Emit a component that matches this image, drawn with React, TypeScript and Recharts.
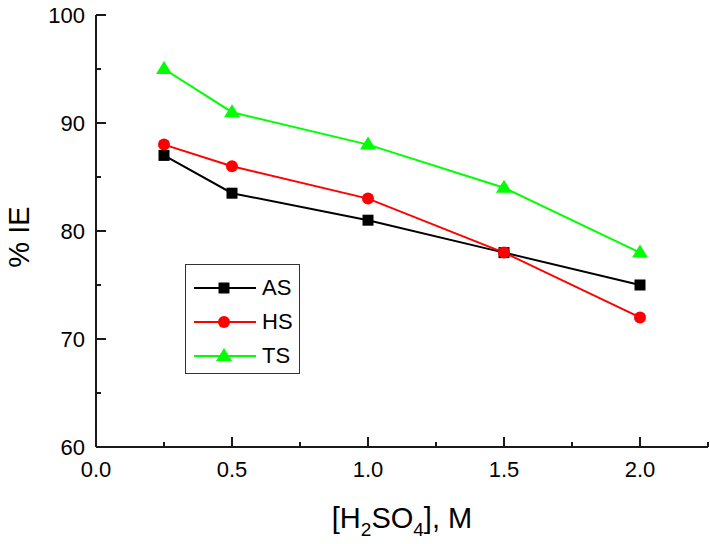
import { LineChart, Line, XAxis, YAxis, Legend } from 'recharts';

const concentrations = [0.25, 0.5, 1.0, 1.5, 2.0];
const asValues = [87, 83.5, 81, 78, 75];
const hsValues = [88, 86, 83, 78, 72];
const tsValues = [95, 91, 88, 84, 78];

const xTicks = [0, 0.25, 0.5, 0.75, 1.0, 1.25, 1.5, 1.75, 2.0, 2.25];
const yTicks = [60, 65, 70, 75, 80, 85, 90, 95, 100];

const FONT = '"Liberation Sans", Arial, sans-serif';

type Shape = 'square' | 'circle' | 'triangle';

interface SeriesProps {
  key: string;
  name: string;
  color: string;
  shape: Shape;
}

const series: SeriesProps[] = [
  { key: 'as', name: 'AS', color: '#000000', shape: 'square' },
  { key: 'hs', name: 'HS', color: '#ff0000', shape: 'circle' },
  { key: 'ts', name: 'TS', color: '#00ff00', shape: 'triangle' },
];

const chartData = concentrations.map((x, i) => ({
  x,
  as: asValues[i],
  hs: hsValues[i],
  ts: tsValues[i],
}));

function Marker({ cx, cy, shape, color }: { cx: number; cy: number; shape: Shape; color: string }) {
  if (shape === 'square') {
    return <rect x={cx - 5.5} y={cy - 5.5} width={11} height={11} fill={color} />;
  }
  if (shape === 'circle') {
    return <circle cx={cx} cy={cy} r={6} fill={color} />;
  }
  return <polygon points={`${cx},${cy - 8} ${cx + 8},${cy + 5} ${cx - 8},${cy + 5}`} fill={color} />;
}

function XTick({ x, y, payload }: any) {
  const v = payload.value;
  const major = Math.abs(v * 2 - Math.round(v * 2)) < 1e-6;
  return (
    <g>
      <line x1={x} x2={x} y1={y} y2={y - (major ? 10 : 5)} stroke="#1a1a1a" strokeWidth={2} />
      {major && (
        <text x={x} y={y + 30} textAnchor="middle" fontSize={22} fontFamily={FONT} fill="#000">
          {v.toFixed(1)}
        </text>
      )}
    </g>
  );
}

function YTick({ x, y, payload }: any) {
  const v = payload.value;
  const major = v % 10 === 0;
  return (
    <g>
      <line x1={x} x2={x + (major ? 10 : 5)} y1={y} y2={y} stroke="#1a1a1a" strokeWidth={2} />
      {major && (
        <text x={x - 11} y={y} dy="0.35em" textAnchor="end" fontSize={22} fontFamily={FONT} fill="#000">
          {v}
        </text>
      )}
    </g>
  );
}

function XLabel({ viewBox }: any) {
  const cx = viewBox.x + viewBox.width / 2;
  const y = viewBox.y + 81;
  return (
    <text x={cx} y={y} textAnchor="middle" fontSize={29} fontFamily={FONT} fill="#000">
      [H
      <tspan fontSize={19} dy={8}>2</tspan>
      <tspan dy={-8}>SO</tspan>
      <tspan fontSize={19} dy={8}>4</tspan>
      <tspan dy={-8}>], M</tspan>
    </text>
  );
}

function YLabel({ viewBox }: any) {
  const cy = viewBox.y + viewBox.height / 2 + 6;
  const x = 29;
  return (
    <text
      x={x}
      y={cy}
      transform={`rotate(-90 ${x} ${cy})`}
      textAnchor="middle"
      fontSize={29}
      fontFamily={FONT}
      fill="#000"
    >
      % IE
    </text>
  );
}

function LegendBox() {
  return (
    <div
      style={{
        border: '1px solid #333',
        background: '#fff',
        padding: '6px 0 0 0',
        width: 113,
        height: 102,
        fontFamily: FONT,
        fontSize: 22,
      }}
    >
      {series.map((s) => (
        <div key={s.key} style={{ display: 'flex', alignItems: 'center', height: 34 }}>
          <svg width={76} height={34}>
            <line x1={8} x2={70} y1={17} y2={17} stroke={s.color} strokeWidth={2} />
            <Marker cx={38} cy={17} shape={s.shape} color={s.color} />
          </svg>
          <span style={{ color: '#000' }}>{s.name}</span>
        </div>
      ))}
    </div>
  );
}

export default function App() {
  return (
    <div style={{ position: 'absolute', left: 0, top: 0 }}>
      <LineChart
        width={710}
        height={544}
        data={chartData}
        margin={{ top: 15, right: 2, left: 0, bottom: 0 }}
      >
        <XAxis
          type="number"
          dataKey="x"
          domain={[0, 2.25]}
          ticks={xTicks}
          interval={0}
          tickSize={0}
          tickMargin={0}
          tick={<XTick />}
          axisLine={{ stroke: '#1a1a1a', strokeWidth: 2 }}
          height={97}
          label={(props: any) => <XLabel {...props} />}
        />
        <YAxis
          type="number"
          domain={[60, 100]}
          ticks={yTicks}
          interval={0}
          tickSize={0}
          tickMargin={0}
          tick={<YTick />}
          axisLine={{ stroke: '#1a1a1a', strokeWidth: 2 }}
          width={96}
          label={(props: any) => <YLabel {...props} />}
        />
        <Legend
          layout="vertical"
          align="center"
          verticalAlign="middle"
          wrapperStyle={{ left: 185, top: 264, width: 115 }}
          content={() => <LegendBox />}
        />
        {series.map((s) => (
          <Line
            key={s.key}
            dataKey={s.key}
            name={s.name}
            stroke={s.color}
            strokeWidth={2}
            isAnimationActive={false}
            activeDot={false}
            dot={(p: any) => <Marker key={`${s.key}-${p.index}`} cx={p.cx} cy={p.cy} shape={s.shape} color={s.color} />}
          />
        ))}
      </LineChart>
    </div>
  );
}
